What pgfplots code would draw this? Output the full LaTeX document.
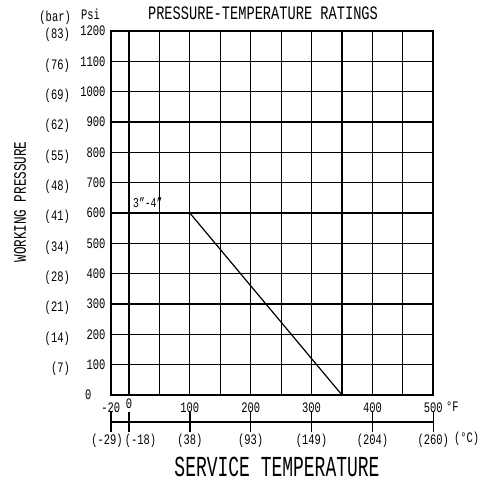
\documentclass[border=0pt]{standalone}
\usepackage{pgfplots}
\pgfplotsset{compat=1.18}
\usepackage{fontspec}
\setmainfont{Liberation Mono}[FakeStretch=0.72]
\newfontfamily\bigf{Liberation Mono}[FakeStretch=0.62]
\pgfplotsset{/pgf/number format/assume math mode=true, /pgf/number format/1000 sep={}}
\begin{document}
\begin{tikzpicture}[x=1pt,y=1pt]
\useasboundingbox (0,0) rectangle (483,-485);
\begin{axis}[
  at={(110.7pt,-395pt)}, anchor=south west,
  scale only axis, width=322.6pt, height=364pt,
  xmin=-30, xmax=500, ymin=0, ymax=1200,
  xtick={-30,100,200,300,400,500},
  xticklabels={-20,100,200,300,400,500},
  extra x ticks={0}, extra x tick labels={0},
  extra x tick style={xticklabel style={yshift=3.5pt}, grid=major},
  minor xtick={50,150,250,350,450},
  ytick={100,200,...,1200},
  extra y ticks={0}, extra y tick labels={0},
  extra y tick style={yticklabel style={xshift=-14pt}},
  grid=both,
  major grid style={black, line width=1.2pt},
  minor grid style={black, line width=1.2pt},
  axis line style={line width=2pt},
  major tick length=0pt, minor tick length=0pt,
  tick label style={font=\fontsize{14.5}{15}\selectfont, inner sep=0pt},
  xticklabel style={anchor=north, yshift=-7.5pt},
  yticklabel style={anchor=east, xshift=-5pt},
  clip=false,
]
\addplot[black, line width=1.2pt] coordinates {(100,600) (350,0)};
\node[font=\fontsize{13.5}{14}\selectfont] at (axis cs:31,635) {3"-4"};
\end{axis}
\begin{axis}[
  at={(110.7pt,-421.7pt)}, anchor=south west,
  scale only axis, width=322.6pt, height=5pt,
  xmin=-30, xmax=500, ymin=0, ymax=1,
  hide y axis,
  axis x line*=bottom,
  x axis line style={-, line width=1.6pt},
  xtick={-30,0,100,200,300,400,500},
  xticklabels={\hspace*{-7.4pt}(-29),\hspace*{23pt}(-18),(38),(93),(149),(204),(260)},
  xtick align=center,
  major tick length=20pt,
  major tick style={black, line width=1.6pt},
  tick label style={font=\fontsize{14.5}{15}\selectfont, inner sep=0pt},
  xticklabel style={anchor=north, yshift=-2pt},
]
\addplot[draw=none] coordinates {(0,0)};
\end{axis}
\foreach \v/\b in {12/83,11/76,10/69,9/62,8/55,7/48,6/41,5/34,4/28,3/21,2/14,1/7}{
  \node[anchor=east, inner sep=0pt, font=\fontsize{14.5}{15}\selectfont] at (70,{-(395-\v*364/12)-4}) {(\b)};
}
\node[anchor=west, inner sep=0pt, font=\fontsize{14.5}{15}\selectfont] at (446,-407) {°F};
\node[anchor=west, inner sep=0pt, font=\fontsize{14.5}{15}\selectfont] at (454,-439) {(°C)};
\node[inner sep=0pt, font=\fontsize{19}{20}\selectfont] at (263,-13) {PRESSURE-TEMPERATURE RATINGS};
\node[anchor=east, inner sep=0pt, font=\fontsize{14.5}{15}\selectfont] at (71,-18) {(bar)};
\node[anchor=west, inner sep=0pt, font=\fontsize{14.5}{15}\selectfont] at (81,-14) {Psi};
\node[inner sep=0pt, font=\bigf\fontsize{29}{30}\selectfont] at (277,-466.5) {SERVICE TEMPERATURE};
\node[inner sep=0pt, rotate=90, font=\fontsize{17.5}{18}\selectfont] at (20,-202) {WORKING PRESSURE};
\end{tikzpicture}
\end{document}
